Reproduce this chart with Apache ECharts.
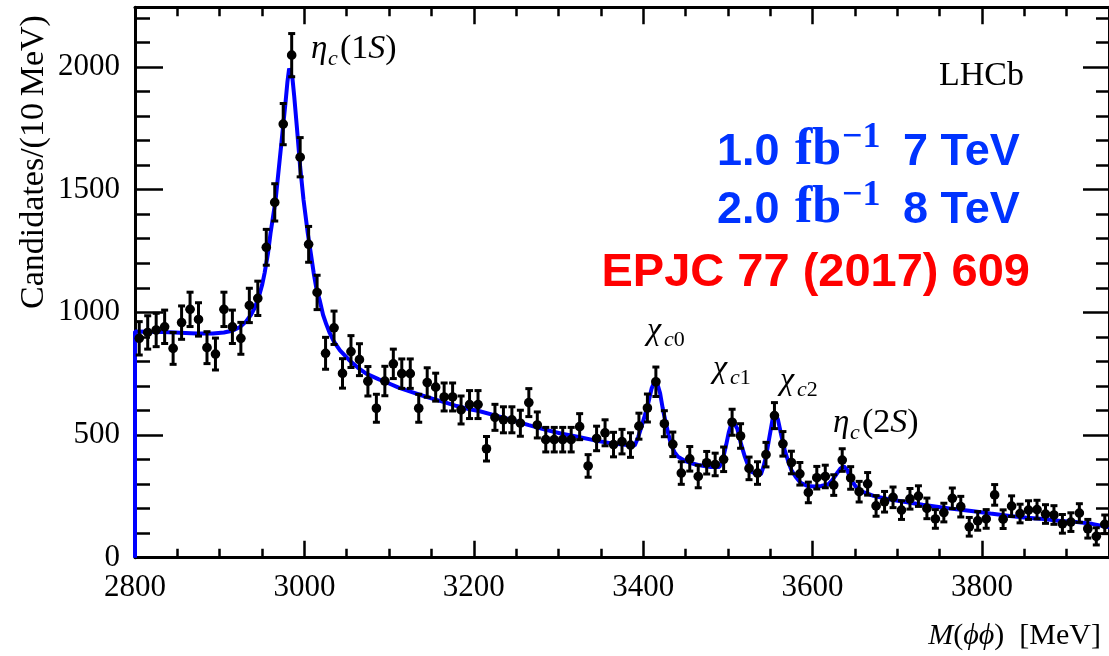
<!DOCTYPE html>
<html><head><meta charset="utf-8">
<script src="https://cdn.jsdelivr.net/npm/echarts@6/dist/echarts.min.js"></script>
<style>html,body{margin:0;padding:0;background:#fff;} #c{width:1109px;height:656px;}</style>
</head><body><div id="c"></div>
<script>
// ---- data (bin centres in MeV, candidates per 10 MeV) ----
const binCenters = [
2805,2815,2825,2835,2845,2855,2865,2875,2885,2895,
2905,2915,2925,2935,2945,2955,2965,2975,2985,2995,
3005,3015,3025,3035,3045,3055,3065,3075,3085,3095,
3105,3115,3125,3135,3145,3155,3165,3175,3185,3195,
3205,3215,3225,3235,3245,3255,3265,3275,3285,3295,
3305,3315,3325,3335,3345,3355,3365,3375,3385,3395,
3405,3415,3425,3435,3445,3455,3465,3475,3485,3495,
3505,3515,3525,3535,3545,3555,3565,3575,3585,3595,
3605,3615,3625,3635,3645,3655,3665,3675,3685,3695,
3705,3715,3725,3735,3745,3755,3765,3775,3785,3795,
3805,3815,3825,3835,3845,3855,3865,3875,3885,3895,
3905,3915,3925,3935,3945];
const counts = [
894,918,928,941,853,958,1012,971,856,830,
1012,941,894,1028,1057,1265,1448,1767,2048,1632,
1277,1081,833,937,751,840,807,719,609,720,
790,750,750,609,714,695,655,655,602,624,
624,444,572,562,562,548,632,541,481,481,
481,481,534,374,486,509,461,473,459,536,
610,717,546,462,345,403,331,387,380,401,
552,496,364,345,420,579,464,388,342,266,
326,331,296,398,325,269,301,211,228,246,
194,240,251,201,158,184,242,208,126,150,
158,256,157,210,180,194,196,178,174,138,
145,182,118,87,136];
const countErrors = [
68,68,68,68,65,68,70,68,65,65,
70,68,65,70,70,73,76,84,88,80,
73,70,65,68,60,65,65,60,57,60,
60,60,60,57,60,57,57,57,57,57,
57,50,53,53,53,53,57,53,50,50,
50,50,53,46,50,53,50,50,50,53,
57,60,53,50,46,50,46,46,46,50,
53,50,46,46,50,53,50,46,46,42,
46,46,42,46,46,42,46,42,42,42,
38,42,42,42,38,38,42,42,38,38,
38,42,38,42,38,38,38,38,38,38,
38,38,38,35,38];
const fitMass = [
2800,2800,2814,2833,2853,2873,2892,2905,2915,2924,
2931,2937,2941,2946,2950,2953,2957,2960,2963,2966,
2970,2974,2978,2980,2982,2984,2986,2988,2991,2995,
2999,3004,3008,3011,3014,3018,3022,3026,3030,3035,
3042,3053,3063,3073,3088,3100,3112,3127,3140,3151,
3167,3180,3195,3206,3225,3245,3265,3284,3304,3324,
3343,3363,3378,3390,3394,3398,3402,3406,3410,3413,
3417,3420,3423,3426,3430,3433,3437,3441,3449,3457,
3465,3472,3480,3490,3494,3498,3501,3504,3508,3511,
3515,3520,3524,3527,3533,3539,3542,3545,3549,3553,
3556,3559,3563,3567,3571,3575,3580,3586,3594,3602,
3610,3618,3623,3628,3633,3637,3641,3645,3649,3653,
3661,3672,3690,3708,3730,3751,3770,3790,3810,3833,
3853,3873,3893,3912,3930,3950];
const fitValue = [
0,922,921,920,917,914,914,918,925,940,
962,990,1016,1060,1110,1160,1240,1322,1390,1458,
1593,1729,1865,1940,1994,1990,1950,1880,1760,1593,
1458,1322,1230,1160,1100,1050,990,950,915,880,
845,805,775,750,727,710,692,675,660,648,
632,618,605,598,580,561,540,522,505,492,
478,466,460,457,490,534,580,630,690,714,
706,670,610,561,500,459,430,412,395,385,
378,374,370,370,400,460,510,545,545,527,
470,412,375,352,342,340,370,412,490,568,
575,565,500,440,395,357,330,305,292,290,
292,298,315,340,364,372,357,320,300,280,
266,252,238,228,216,206,197,189,180,170,
163,158,150,145,138,124];
const xRange = [2800, 3950];
const yRange = [0, 2243];

// ---- chart ----
const SERIF = 'Liberation Serif';
const SANS = 'Liberation Sans';
const chart = echarts.init(document.getElementById('c'), null, {renderer: 'canvas'});

const dataPts = binCenters.map((m, i) => [m, counts[i], countErrors[i]]);
const fitPts = fitMass.map((m, i) => [m, fitValue[i]]);
const plain = v => String(Math.round(v));

function xAxisCfg(pos, labels) {
  return {
    type: 'value', position: pos, min: xRange[0], max: xRange[1], interval: 200,
    axisLine: {show: true, onZero: false, lineStyle: {color: '#000', width: 3}},
    axisTick: {show: true, inside: true, length: 17, lineStyle: {color: '#000', width: 2.5}},
    minorTick: {show: true, splitNumber: 4, length: 9, lineStyle: {color: '#000', width: 2.5}},
    axisLabel: {show: labels, margin: 15, color: '#000', fontFamily: SERIF, fontSize: 31,
                showMaxLabel: false, formatter: plain},
    splitLine: {show: false}, minorSplitLine: {show: false}
  };
}
function yAxisCfg(pos, labels, major, minor) {
  return {
    type: 'value', position: pos, min: yRange[0], max: yRange[1], interval: 500,
    axisLine: {show: true, onZero: false, lineStyle: {color: '#000', width: 3}},
    axisTick: {show: true, inside: true, length: major, lineStyle: {color: '#000', width: 2.5}},
    minorTick: {show: true, splitNumber: 5, length: minor, lineStyle: {color: '#000', width: 2.5}},
    axisLabel: {show: labels, margin: 15, color: '#000', fontFamily: SERIF, fontSize: 31,
                showMaxLabel: false, formatter: plain},
    splitLine: {show: false}, minorSplitLine: {show: false}
  };
}

function txt(x, base, text, size, o) {
  o = o || {};
  return {
    type: 'text', x: x, y: base - 0.31 * size, z: 100, rotation: o.rotation || 0,
    style: {
      text: text, fill: o.fill || '#000', fontSize: size, fontFamily: o.family || SERIF,
      fontStyle: o.fontStyle || 'normal', fontWeight: o.fontWeight || 'normal',
      align: o.align || 'left', verticalAlign: 'middle', rich: o.rich
    }
  };
}
function richSerif(size) {
  return {
    n: {fontSize: size, fontFamily: SERIF, fontStyle: 'normal', fill: '#000'},
    i: {fontSize: size, fontFamily: SERIF, fontStyle: 'italic', fill: '#000'}
  };
}
const BLUE = '#0033ff';
const RED = '#ff0000';

const graphics = [
  // eta_c(1S)
  txt(311, 60, 'η', 33, {fontStyle: 'italic'}),
  txt(328, 66, 'c', 22, {fontStyle: 'italic'}),
  txt(340, 60, '{n|(1}{i|S}{n|)}', 34, {rich: richSerif(34)}),
  // chi_c0
  txt(647, 341, 'χ', 32, {fontStyle: 'italic'}),
  txt(664, 347, '{i|c}{n|0}', 22, {rich: richSerif(22)}),
  // chi_c1
  txt(713, 379, 'χ', 32, {fontStyle: 'italic'}),
  txt(730, 385, '{i|c}{n|1}', 22, {rich: richSerif(22)}),
  // chi_c2
  txt(780, 391, 'χ', 32, {fontStyle: 'italic'}),
  txt(797, 397, '{i|c}{n|2}', 22, {rich: richSerif(22)}),
  // eta_c(2S)
  txt(833, 434, 'η', 33, {fontStyle: 'italic'}),
  txt(850, 440, 'c', 22, {fontStyle: 'italic'}),
  txt(862, 434, '{n|(2}{i|S}{n|)}', 34, {rich: richSerif(34)}),
  // LHCb
  txt(939, 87, 'LHCb', 34),
  // luminosity lines
  txt(717, 167, '1.0', 45, {family: SANS, fontWeight: 'bold', fill: BLUE}),
  txt(795, 167, 'fb', 52, {fontWeight: 'bold', fill: BLUE}),
  txt(842, 149, '−1', 36, {fontWeight: 'bold', fill: BLUE}),
  txt(903, 167, '7 TeV', 45, {family: SANS, fontWeight: 'bold', fill: BLUE}),
  txt(717, 225, '2.0', 45, {family: SANS, fontWeight: 'bold', fill: BLUE}),
  txt(795, 225, 'fb', 52, {fontWeight: 'bold', fill: BLUE}),
  txt(842, 207, '−1', 36, {fontWeight: 'bold', fill: BLUE}),
  txt(903, 225, '8 TeV', 45, {family: SANS, fontWeight: 'bold', fill: BLUE}),
  txt(1030, 288, 'EPJC 77 (2017) 609', 47, {family: SANS, fontWeight: 'bold', fill: RED, align: 'right'}),
  // axis titles
  txt(1101, 645, '{i|M}{n|(}{i|ϕϕ}{n|)  [MeV]}', 30, {rich: richSerif(30), align: 'right'}),
  {
    type: 'text', x: 34, y: 162, rotation: Math.PI / 2, z: 100,
    style: {text: 'Candidates/(10\u2009MeV)', fill: '#000', fontSize: 34, fontFamily: SERIF,
            align: 'center', verticalAlign: 'middle'}
  }
];

function renderPoint(params, api) {
  const x = api.value(0), y = api.value(1), e = api.value(2);
  const c = api.coord([x, y]);
  const top = api.coord([x, y + e]);
  const bot = api.coord([x, y - e]);
  const l = api.coord([x - 5, y]);
  const r = api.coord([x + 5, y]);
  const st = {stroke: '#000', lineWidth: 3};
  const cap = 3.5;
  return {
    type: 'group',
    children: [
      {type: 'line', shape: {x1: c[0], y1: top[1], x2: c[0], y2: bot[1]}, style: st},
      {type: 'line', shape: {x1: c[0] - cap, y1: top[1], x2: c[0] + cap, y2: top[1]}, style: st},
      {type: 'line', shape: {x1: c[0] - cap, y1: bot[1], x2: c[0] + cap, y2: bot[1]}, style: st},
      {type: 'line', shape: {x1: l[0], y1: c[1], x2: r[0], y2: c[1]}, style: st},
      {type: 'circle', shape: {cx: c[0], cy: c[1], r: 4.8}, style: {fill: '#000'}}
    ]
  };
}

chart.setOption({
  animation: false,
  backgroundColor: '#fff',
  grid: {left: 135, top: 7.3, width: 977.5, height: 550.4, containLabel: false},
  xAxis: [xAxisCfg('bottom', true), xAxisCfg('top', false)],
  yAxis: [yAxisCfg('left', true, 28, 15), yAxisCfg('right', false, 26, 13)],
  series: [
    {
      type: 'line', name: 'fit', xAxisIndex: 0, yAxisIndex: 0, data: fitPts,
      showSymbol: false, symbol: 'none', clip: false, z: 3,
      lineStyle: {color: '#0000ff', width: 4}, itemStyle: {color: '#0000ff'}
    },
    {
      type: 'custom', name: 'data', xAxisIndex: 0, yAxisIndex: 0, data: dataPts,
      encode: {x: 0, y: 1}, renderItem: renderPoint, z: 4
    }
  ],
  graphic: graphics
});
</script>
</body></html>
